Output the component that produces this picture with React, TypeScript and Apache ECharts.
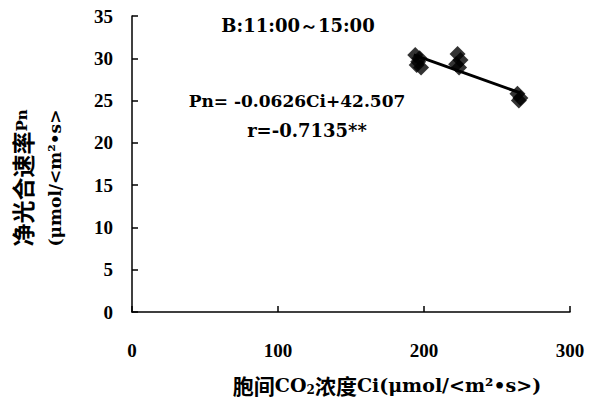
import React, { useEffect, useRef } from "react";
import * as echarts from "echarts";

const ciValues = [194, 197, 195, 198, 196, 223, 225, 222, 224, 264, 266, 265];
const pnValues = [30.4, 30.0, 29.2, 28.9, 29.6, 30.5, 29.8, 29.3, 28.9, 25.8, 25.3, 25.0];
const fitCi = [193, 266];
const fitPn = [30.4, 25.9];
const xTicks = [0, 100, 200, 300];
const yTicks = [0, 5, 10, 15, 20, 25, 30, 35];
const titleText = "B:11:00～15:00";
const equationText = "Pn= -0.0626Ci+42.507";
const rText = "r=-0.7135**";

const SERIF = "'Liberation Serif', 'DejaVu Serif', serif";
const DSERIF = "'DejaVu Serif', 'Liberation Serif', serif";
const CJK = "'Noto Sans CJK SC', 'DejaVu Serif', serif";

export default function App() {
  const ref = useRef<HTMLDivElement>(null);
  useEffect(() => {
    if (!ref.current) return;
    const chart = echarts.init(ref.current, null, { renderer: "svg" });
    chart.setOption({
      animation: false,
      backgroundColor: "#fff",
      grid: { left: 132, right: 24, top: 16, bottom: 87 },
      xAxis: {
        type: "value",
        min: xTicks[0],
        max: xTicks[xTicks.length - 1],
        interval: 100,
        axisLine: { show: true, lineStyle: { color: "#000", width: 1.5 } },
        axisTick: { show: true, inside: true, length: 6, lineStyle: { color: "#000", width: 1.5 } },
        splitLine: { show: false },
        axisLabel: {
          margin: 29,
          color: "#000",
          fontSize: 19,
          fontFamily: SERIF,
          fontWeight: "bold",
        },
      },
      yAxis: {
        type: "value",
        min: yTicks[0],
        max: yTicks[yTicks.length - 1],
        interval: 5,
        axisLine: { show: true, lineStyle: { color: "#000", width: 1.5 } },
        axisTick: { show: true, inside: true, length: 6, lineStyle: { color: "#000", width: 1.5 } },
        splitLine: { show: false },
        axisLabel: {
          margin: 19,
          color: "#000",
          fontSize: 19,
          fontFamily: SERIF,
          fontWeight: "bold",
        },
      },
      series: [
        {
          type: "line",
          data: fitCi.map((c, i) => [c, fitPn[i]]),
          symbol: "none",
          lineStyle: { color: "#000", width: 3 },
          z: 1,
        },
        {
          type: "scatter",
          data: ciValues.map((c, i) => [c, pnValues[i]]),
          symbol: "diamond",
          symbolSize: 16,
          itemStyle: { color: "#000" },
          z: 2,
        },
      ],
      graphic: [
        {
          type: "text",
          x: 298,
          y: 25,
          style: {
            text: titleText,
            fill: "#000",
            font: `bold 18px ${DSERIF}`,
            textAlign: "center",
            textVerticalAlign: "middle",
          },
        },
        {
          type: "text",
          x: 297,
          y: 101,
          style: {
            text: equationText,
            fill: "#000",
            font: `bold 17px ${DSERIF}`,
            textAlign: "center",
            textVerticalAlign: "middle",
          },
        },
        {
          type: "text",
          x: 307,
          y: 130,
          style: {
            text: rText,
            fill: "#000",
            font: `bold 18px ${DSERIF}`,
            textAlign: "center",
            textVerticalAlign: "middle",
          },
        },
        {
          type: "text",
          x: 22,
          y: 178,
          rotation: Math.PI / 2,
          style: {
            text: "{a|净光合速率}{b|Pn}",
            textAlign: "center",
            textVerticalAlign: "middle",
            rich: {
              a: { font: `bold 23px ${CJK}`, fill: "#000" },
              b: { font: `bold 15px ${DSERIF}`, fill: "#000" },
            },
          },
        },
        {
          type: "text",
          x: 55,
          y: 178,
          rotation: Math.PI / 2,
          style: {
            text: "(μmol/<m²•s>",
            fill: "#000",
            font: `bold 17px ${DSERIF}`,
            textAlign: "center",
            textVerticalAlign: "middle",
          },
        },
        {
          type: "text",
          x: 387,
          y: 385,
          style: {
            text: "{a|胞间}{b|CO}{s|2}{a|浓度}{b|Ci(μmol/<m²•s>)}",
            textAlign: "center",
            textVerticalAlign: "middle",
            rich: {
              a: { font: `bold 21px ${CJK}`, fill: "#000" },
              b: { font: `bold 19px ${DSERIF}`, fill: "#000" },
              s: { font: `bold 12px ${DSERIF}`, fill: "#000", padding: [10, 0, 0, 0] },
            },
          },
        },
      ],
    });
    return () => chart.dispose();
  }, []);
  return <div ref={ref} style={{ width: 594, height: 399, position: "absolute", left: 0, top: 0 }} />;
}
